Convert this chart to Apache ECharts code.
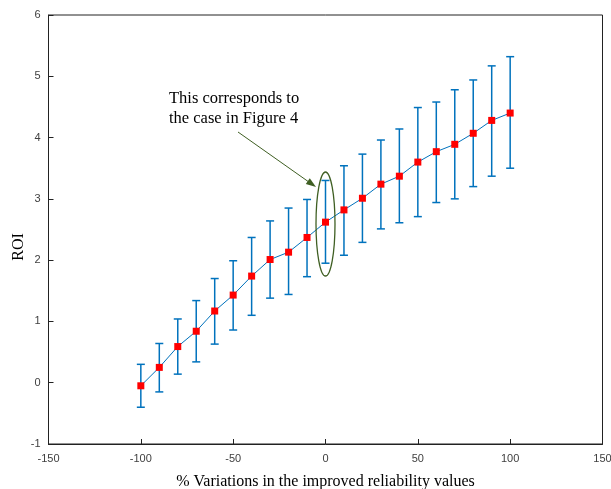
<!DOCTYPE html>
<html>
<head>
<meta charset="utf-8">
<script src="https://cdn.jsdelivr.net/npm/echarts@6/dist/echarts.min.js"></script>
<style>html,body{margin:0;padding:0;background:#fff}#c{width:611px;height:489px}</style>
</head>
<body>
<div id="c"></div>
<script>
var xValues = [-100,-90,-80,-70,-60,-50,-40,-30,-20,-10,0,10,20,30,40,50,60,70,80,90,100];
var roiMean = [-0.05,0.25,0.59,0.84,1.17,1.43,1.74,2.01,2.13,2.37,2.62,2.82,3.01,3.24,3.37,3.60,3.77,3.89,4.07,4.28,4.40];
var roiHigh = [0.30,0.64,1.04,1.34,1.70,1.99,2.37,2.64,2.85,2.99,3.30,3.54,3.73,3.96,4.14,4.49,4.58,4.78,4.94,5.17,5.32];
var roiLow  = [-0.40,-0.15,0.14,0.34,0.63,0.86,1.10,1.38,1.44,1.73,1.95,2.08,2.29,2.51,2.61,2.71,2.94,3.00,3.20,3.37,3.50];
var xTicks = [-150,-100,-50,0,50,100,150];
var yTicks = [-1,0,1,2,3,4,5,6];

var blue = '#0072BD';
var green = '#3F5F23';
var chart = echarts.init(document.getElementById('c'));
var errData = xValues.map(function(x,i){return [x, roiLow[i], roiHigh[i]];});
var lineData = xValues.map(function(x,i){return [x, roiMean[i]];});
var tickFont = {fontFamily:'Liberation Sans', fontSize:11, color:'#404040'};

chart.setOption({
  animation:false,
  grid:{left:48.5, right:8.5, top:15, bottom:45, containLabel:false, outerBoundsMode:'none', show:true, borderColor:'#222', borderWidth:1, backgroundColor:'#fff'},
  xAxis:{type:'value', min:-150, max:150, interval:50,
    name:'% Variations in the improved reliability values', nameLocation:'middle', nameGap:30,
    nameTextStyle:{fontFamily:'Liberation Serif', fontSize:16, color:'#000', verticalAlign:'top'},
    axisLine:{show:true, onZero:false, lineStyle:{color:'#222', width:1}},
    axisTick:{show:true, inside:true, length:5, lineStyle:{color:'#222'}},
    axisLabel:Object.assign({margin:9, formatter:function(v){return xTicks.indexOf(v)>=0?String(v):'';}}, tickFont),
    splitLine:{show:false}},
  yAxis:{type:'value', min:-1, max:6, interval:1,
    axisLine:{show:true, onZero:false, lineStyle:{color:'#222', width:1}},
    axisTick:{show:true, inside:true, length:5, lineStyle:{color:'#222'}},
    axisLabel:Object.assign({margin:8, formatter:function(v){return yTicks.indexOf(v)>=0?String(v):'';}}, tickFont),
    splitLine:{show:false}},
  series:[
    {type:'custom', data:errData, z:2,
      renderItem:function(params, api){
        var x = api.value(0);
        var lo = api.coord([x, api.value(1)]);
        var hi = api.coord([x, api.value(2)]);
        var hw = 4;
        var st = {stroke:blue, lineWidth:1.5};
        return {type:'group', children:[
          {type:'line', shape:{x1:lo[0], y1:lo[1], x2:hi[0], y2:hi[1]}, style:st},
          {type:'line', shape:{x1:lo[0]-hw, y1:lo[1], x2:lo[0]+hw, y2:lo[1]}, style:st},
          {type:'line', shape:{x1:hi[0]-hw, y1:hi[1], x2:hi[0]+hw, y2:hi[1]}, style:st}
        ]};
      }},
    {type:'line', data:lineData, z:3, symbol:'rect', symbolSize:7,
      lineStyle:{color:blue, width:1},
      itemStyle:{color:'#FF0000', borderWidth:0}}
  ],
  graphic:[
    {type:'text', x:18.5, y:247, rotation:Math.PI/2, style:{text:'ROI', font:'16px "Liberation Serif"', fill:'#000', textAlign:'center', textVerticalAlign:'middle'}},
    {type:'text', left:169, top:89, style:{text:'This corresponds to\nthe case in Figure 4', font:'16.5px "Liberation Serif"', fill:'#000', lineHeight:20}},
    {type:'line', shape:{x1:238, y1:132, x2:308, y2:181.4}, style:{stroke:green, lineWidth:1}},
    {type:'polygon', shape:{points:[[316,187],[305.8,184.1],[309.8,178.3]]}, style:{fill:green}},
    {type:'ellipse', shape:{cx:325.5, cy:224, rx:9.5, ry:52}, style:{stroke:green, lineWidth:1.3, fill:null}, z:10}
  ]
});
</script>
</body>
</html>
